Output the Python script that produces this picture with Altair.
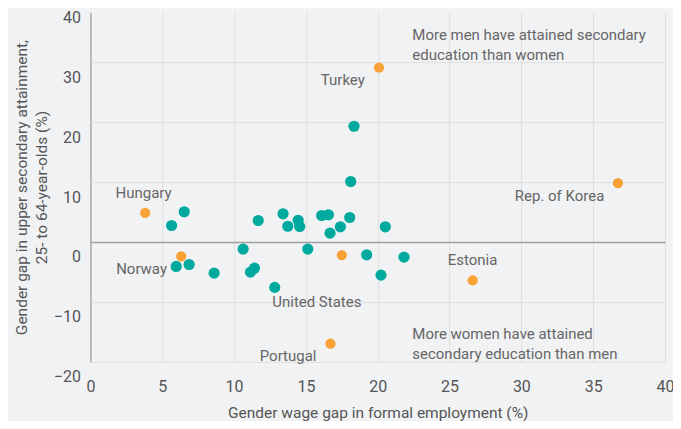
import altair as alt
import pandas as pd

# Unlabelled countries (teal)
other_x = [5.65, 6.53, 5.97, 6.87, 8.61, 10.63, 11.14, 11.42, 11.68, 12.83, 13.41, 13.74, 14.46,
           14.57, 15.13, 16.10, 16.57, 16.68, 17.40, 18.05, 18.12, 18.35, 19.23, 20.23, 20.53, 21.83]
other_y = [2.75, 5.03, -4.08, -3.75, -5.20, -1.20, -5.03, -4.37, 3.58, -7.58, 4.70, 2.63, 3.63,
           2.58, -1.19, 4.42, 4.53, 1.47, 2.53, 4.08, 10.08, 19.30, -2.14, -5.53, 2.53, -2.53]

# Labelled countries (orange)
named_country = ["Hungary", "Norway", "United States", "Turkey", "Rep. of Korea", "Estonia", "Portugal"]
named_x = [3.81, 6.32, 17.50, 20.09, 36.72, 26.61, 16.71]
named_y = [4.87, -2.42, -2.19, 29.08, 9.80, -6.42, -16.97]

# Label anchor points (data coordinates)
label_x = [3.70, 3.56, 15.76, 17.57, 32.66, 26.60, 13.76]
label_y = [8.20, -4.47, -10.03, 27.08, 7.75, -3.08, -19.03]

notes = ["More men have attained secondary\neducation than women",
         "More women have attained\nsecondary education than men"]
note_x = [22.41, 22.41]
note_y = [34.58, -15.42]

x_ticks = [0, 5, 10, 15, 20, 25, 30, 35, 40]
grid_y = [-20, -10, 0, 10, 20, 30]
y_ticks = [-20, -10, 0, 10, 20, 30, 40]

TEAL = "#00a99d"
ORANGE = "#f8a136"
FONT = "Roboto"
TXT = "#666666"
AX = "#555555"

pts = pd.concat([
    pd.DataFrame({"x": other_x, "y": other_y, "group": "other"}),
    pd.DataFrame({"x": named_x, "y": named_y, "group": "named"}),
], ignore_index=True)
labels = pd.DataFrame({"name": named_country, "x": label_x, "y": label_y})
notes_df = pd.DataFrame({"text": notes, "x": note_x, "y": note_y})

xs = alt.Scale(domain=[0, 40], nice=False, zero=False)
ys = alt.Scale(domain=[-20, 38.3333], nice=False, zero=False)
ys_lab = alt.Scale(domain=[-20, 40], range=[350, -10], nice=False, zero=False)

x_axis = alt.Axis(
    values=x_ticks, title="Gender wage gap in formal employment (%)",
    domain=False, ticks=False, grid=True,
    gridColor={"condition": {"test": "datum.value === 0", "value": "#a8a8a8"}, "value": "#dedede"},
    gridWidth={"condition": {"test": "datum.value === 0", "value": 1.5}, "value": 1},
    labelPadding=17, labelFontSize=16, labelColor=AX, labelFont=FONT, labelFlush=False,
    titleFont=FONT, titleFontSize=15.5, titleFontWeight="normal", titleColor=AX,
    titleX=287.5, titleY=51, titleBaseline="middle",
)
y_grid_axis = alt.Axis(
    values=grid_y, title=None, labels=False, domain=False, ticks=False, grid=True,
    gridColor={"condition": {"test": "datum.value === 0", "value": "#a0a0a0"}, "value": "#dedede"},
    gridWidth={"condition": {"test": "datum.value === 0", "value": 1.6}, "value": 1},
)
y_label_axis = alt.Axis(
    orient="left", values=y_ticks,
    title=["Gender gap in upper secondary attainment,", "25- to 64-year-olds (%)"],
    domain=False, ticks=False, grid=False,
    labelPadding=10, labelOffset=15, labelFontSize=16, labelColor=AX, labelFont=FONT,
    labelFlush=False,
    titleFont=FONT, titleFontSize=15.5, titleFontWeight="normal", titleColor=AX,
    titleLineHeight=20, titleX=-61, titleY=175,
)

points = alt.Chart(pts).mark_circle(opacity=1).encode(
    x=alt.X("x:Q", scale=xs, axis=x_axis),
    y=alt.Y("y:Q", scale=ys, axis=y_grid_axis),
    color=alt.Color("group:N", scale=alt.Scale(domain=["other", "named"], range=[TEAL, ORANGE]), legend=None),
    size=alt.Size("group:N", scale=alt.Scale(domain=["other", "named"], range=[125, 105]), legend=None),
)

text = alt.Chart(labels).mark_text(
    font=FONT, fontSize=15, color=TXT, align="center", baseline="middle"
).encode(x=alt.X("x:Q", scale=xs), y=alt.Y("y:Q", scale=ys, axis=None), text="name:N")

note_text = alt.Chart(notes_df).mark_text(
    font=FONT, fontSize=15, color=TXT, align="left", baseline="middle",
    lineBreak="\n", lineHeight=20
).encode(x=alt.X("x:Q", scale=xs), y=alt.Y("y:Q", scale=ys_lab, axis=y_label_axis), text="text:N")

chart = alt.layer(points, text, note_text).resolve_scale(y="independent").properties(
    width=575, height=350,
    autosize=alt.AutoSizeParams(type="none"),
    padding={"left": 82.5, "top": 4, "right": 8, "bottom": 59},
    background="#f1f2f4",
).configure_view(stroke=None)

chart.save("out.html", embed_options={"renderer": "svg", "actions": False})
